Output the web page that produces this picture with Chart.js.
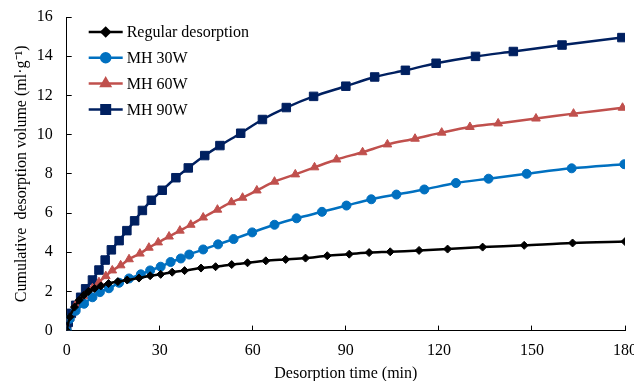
<!DOCTYPE html>
<html>
<head>
<meta charset="utf-8">
<script src="https://cdn.jsdelivr.net/npm/chart.js@4/dist/chart.umd.min.js"></script>
<style>
  html, body { margin: 0; padding: 0; background: #fff; }
  #wrap { width: 634px; height: 381px; position: relative; }
</style>
</head>
<body>
<div id="wrap"><canvas id="desorption-chart"></canvas></div>
<script>
// series names
const seriesNames = ["Regular desorption", "MH 30W", "MH 60W", "MH 90W"];

// time (min) and cumulative volume (ml/g)
const regularTime = [0, 1, 2.5, 4, 5.5, 7, 9, 11, 13.5, 16.5, 19.5, 23.3, 26.9, 30.3, 34, 38, 43.3, 48, 53.2, 58.3, 64.2, 70.6, 77, 84, 91.1, 97.5, 104.3, 113.6, 122.8, 134.1, 147.5, 163.1, 180];
const regularVol  = [0, 0.7, 1.2, 1.55, 1.8, 2.0, 2.15, 2.28, 2.4, 2.5, 2.58, 2.68, 2.8, 2.87, 2.98, 3.06, 3.19, 3.26, 3.37, 3.46, 3.56, 3.63, 3.7, 3.82, 3.9, 3.98, 4.02, 4.09, 4.16, 4.26, 4.35, 4.47, 4.54];

const mh30Time = [0, 1, 2.9, 5.6, 8.3, 10.7, 13.6, 16.9, 20.1, 23.9, 26.9, 30.3, 33.5, 36.8, 39.5, 44, 48.8, 53.8, 59.8, 67, 74.1, 82.3, 90.2, 98.2, 106.3, 115.3, 125.5, 136, 148.3, 162.8, 179.8];
const mh30Vol  = [0, 0.6, 1.01, 1.37, 1.7, 1.96, 2.16, 2.44, 2.66, 2.87, 3.07, 3.26, 3.5, 3.68, 3.88, 4.14, 4.4, 4.67, 5.01, 5.4, 5.73, 6.06, 6.38, 6.7, 6.94, 7.2, 7.53, 7.75, 8.0, 8.28, 8.49];

const mh60Time = [0, 1, 2.9, 5.6, 8.3, 10.4, 12.6, 14.7, 17.4, 20.1, 23.6, 26.5, 29.5, 33, 36.5, 40, 44, 48.6, 53.1, 56.7, 61.3, 67, 73.7, 79.9, 87, 95.4, 103.4, 112.3, 120.9, 130, 139.1, 151.3, 163.4, 179.2];
const mh60Vol  = [0, 0.62, 1.3, 1.75, 2.16, 2.47, 2.78, 3.07, 3.33, 3.64, 3.93, 4.23, 4.5, 4.8, 5.1, 5.4, 5.77, 6.17, 6.55, 6.78, 7.15, 7.6, 7.97, 8.33, 8.73, 9.1, 9.5, 9.79, 10.1, 10.39, 10.57, 10.82, 11.07, 11.37];

const mh90Time = [0, 0.5, 1.5, 2.9, 4.5, 6.1, 8.3, 10.4, 12.4, 14.4, 16.9, 19.4, 21.9, 24.4, 27.3, 30.8, 35.2, 39.2, 44.5, 49.4, 56.1, 63.1, 70.8, 79.6, 90, 99.3, 109.2, 119.1, 131.8, 144, 159.7, 179];
const mh90Vol  = [0, 0.42, 0.88, 1.29, 1.7, 2.13, 2.58, 3.09, 3.6, 4.12, 4.59, 5.1, 5.6, 6.13, 6.65, 7.16, 7.8, 8.3, 8.93, 9.44, 10.07, 10.77, 11.38, 11.95, 12.47, 12.94, 13.28, 13.64, 13.99, 14.24, 14.57, 14.95];

const xTicks = [0, 30, 60, 90, 120, 150, 180];
const yTicks = [0, 2, 4, 6, 8, 10, 12, 14, 16];

const colors = ["#000000", "#0070C0", "#C0504D", "#002060"];
const shapes = ["rectRot", "circle", "triangle", "rect"];
const radii  = [4, 4.5, 5, 6];

function toPoints(times, vols) {
  return times.map(function (t, i) { return { x: t, y: vols[i] }; });
}

const allSeries = [
  toPoints(regularTime, regularVol),
  toPoints(mh30Time, mh30Vol),
  toPoints(mh60Time, mh60Vol),
  toPoints(mh90Time, mh90Vol),
];

const serif = "'Liberation Serif', 'Times New Roman', serif";

// legend drawn inside the plot, top left, like the original figure
const insideLegend = {
  id: "insideLegend",
  afterDraw(chart) {
    const ctx = chart.ctx;
    const area = chart.chartArea;
    ctx.save();
    ctx.font = "16px " + serif;
    ctx.textBaseline = "middle";
    chart.data.datasets.forEach(function (ds, i) {
      const y = area.top + 15 + i * 25.8;
      const x0 = area.left + 22;
      const x1 = area.left + 56;
      ctx.strokeStyle = ds.borderColor;
      ctx.lineWidth = 2.5;
      ctx.beginPath();
      ctx.moveTo(x0, y);
      ctx.lineTo(x1, y);
      ctx.stroke();
      ctx.fillStyle = ds.backgroundColor;
      ctx.strokeStyle = ds.borderColor;
      Chart.helpers.drawPoint(ctx, {
        pointStyle: ds.pointStyle,
        radius: ds.pointRadius,
        borderWidth: 1,
        rotation: 0
      }, (x0 + x1) / 2, y);
      ctx.fillStyle = "#000";
      ctx.fillText(ds.label, x1 + 4, y + 1);
    });
    ctx.restore();
  }
};

function drawChart() {
  const canvas = document.querySelector("#desorption-chart");
  const datasets = allSeries.map(function (pts, i) {
    return {
      label: seriesNames[i],
      data: pts,
      borderColor: colors[i],
      backgroundColor: colors[i],
      pointBackgroundColor: colors[i],
      pointBorderColor: colors[i],
      pointStyle: shapes[i],
      pointRadius: radii[i],
      pointBorderWidth: 1,
      borderWidth: 2.5,
      tension: 0.3,
    };
  });

  let options = {
    type: "line",
    data: { datasets: datasets },
    options: {
      responsive: true,
      maintainAspectRatio: false,
      animation: false,
      layout: { padding: { top: 17, right: 0, left: 10, bottom: 0 } },
      scales: {
        x: {
          type: "linear",
          min: 0,
          max: 180,
          afterBuildTicks: function (axis) {
            axis.ticks = xTicks.map(function (v) { return { value: v }; });
          },
          // let the last label run close to the edge, as in the figure
          afterFit: function (axis) {
            axis.paddingRight = 9;
          },
          grid: { drawOnChartArea: false, color: "#000", tickLength: -5, tickWidth: 1 },
          border: { color: "#000", width: 1 },
          ticks: { color: "#000", font: { family: serif, size: 16 }, padding: 16, maxRotation: 0 },
          title: {
            display: true,
            text: "Desorption time (min)",
            color: "#000",
            font: { family: serif, size: 16 },
            padding: { top: -13, bottom: -2 },
          },
        },
        y: {
          min: 0,
          max: 16,
          afterBuildTicks: function (axis) {
            axis.ticks = yTicks.map(function (v) { return { value: v }; });
          },
          afterFit: function (axis) {
            axis.paddingTop = 8;
          },
          grid: { drawOnChartArea: false, color: "#000", tickLength: -5, tickWidth: 1 },
          border: { color: "#000", width: 1 },
          ticks: { color: "#000", font: { family: serif, size: 16 }, padding: 19 },
          title: {
            display: true,
            text: "Cumulative  desorption volume (ml\u00b7g\u207b\u00b9)",
            color: "#000",
            font: { family: serif, size: 16 },
            padding: { top: 2, bottom: -13.5 },
          },
        },
      },
      plugins: {
        legend: { display: false },
        tooltip: { enabled: false },
      },
    },
    plugins: [insideLegend],
  };
  new Chart(canvas.getContext("2d"), options);
}

drawChart();
</script>
</body>
</html>
